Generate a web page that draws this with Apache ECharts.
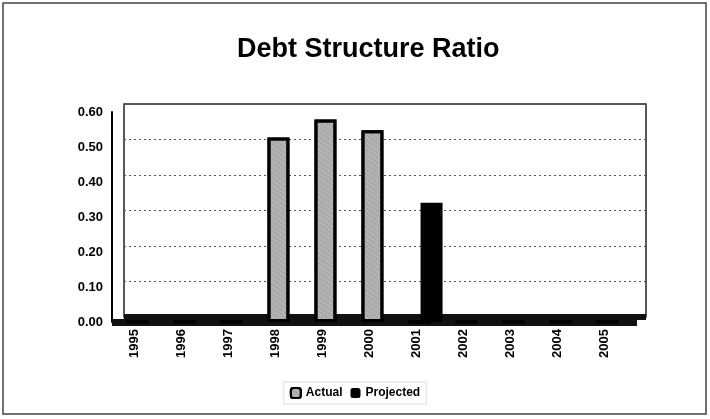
<!DOCTYPE html>
<html><head><meta charset="utf-8">
<script src="https://cdn.jsdelivr.net/npm/echarts@6/dist/echarts.min.js"></script>
<style>html,body{margin:0;padding:0;background:#fff}#c{width:710px;height:419px}</style>
</head><body><div id="c"></div>
<script>
const years = ['1995','1996','1997','1998','1999','2000','2001','2002','2003','2004','2005'];
const actual = [0, 0, 0, 0.51, 0.56, 0.53, 0, 0, 0, 0, 0];
const projected = [0, 0, 0, 0, 0, 0, 0.33, 0, 0, 0, 0];
const seriesNames = ['Actual', 'Projected'];
const titleText = 'Debt Structure Ratio';

const FONT = 'Liberation Sans, Arial, sans-serif';
const chart = echarts.init(document.getElementById('c'), null, {renderer: 'canvas'});
chart.setOption({
  animation: false,
  backgroundColor: '#fff',
  title: {
    text: titleText, left: 232, top: 31,
    textStyle: {fontFamily: FONT, fontWeight: 'bold', fontSize: 27, color: '#000'}
  },
  legend: {
    data: seriesNames, left: 'center', top: 382,
    itemWidth: 10, itemHeight: 10, itemGap: 8,
    textStyle: {fontFamily: FONT, fontWeight: 'bold', fontSize: 12, color: '#000'},
    padding: [5, 6], borderColor: '#ddd', borderWidth: 1
  },
  graphic: [{
    type: 'rect', silent: true, z: -10,
    shape: {x: 3, y: 3, width: 703, height: 411},
    style: {fill: 'none', stroke: '#444', lineWidth: 1.5}
  }],
  grid: [
    {left: 120, right: 73, top: 105, bottom: 97},
    {left: 124, right: 64, top: 104, bottom: 102, show: true, borderColor: '#222', borderWidth: 1.5, z: -1},
    {left: 112, right: 73, top: 112, bottom: 97}
  ],
  xAxis: [
    {
      type: 'category', data: years, gridIndex: 0,
      axisLine: {show: false},
      axisTick: {show: false},
      axisLabel: {
        rotate: 90, margin: 7, color: '#000',
        fontFamily: FONT, fontWeight: 'bold', fontSize: 13,
        verticalAlign: 'bottom', padding: [0, 0, 3, 0]
      }
    },
    {type: 'category', data: years, gridIndex: 1,
      axisLine: {show: true, lineStyle: {color: '#111', width: 6, cap: 'butt'}},
      axisTick: {show: false}, axisLabel: {show: false}},
    {type: 'category', data: years, gridIndex: 2,
      axisLine: {show: true, lineStyle: {color: '#111', width: 7, cap: 'butt'}},
      axisTick: {show: false}, axisLabel: {show: false}}
  ],
  yAxis: [
    {type: 'value', gridIndex: 0, min: 0, max: 0.6, interval: 0.1, show: false},
    {
      type: 'value', gridIndex: 1, min: 0, max: 0.6, interval: 0.1,
      axisLine: {show: false}, axisTick: {show: false}, axisLabel: {show: false},
      splitLine: {show: true, lineStyle: {color: '#555', type: [2, 3], width: 1}}
    },
    {
      type: 'value', gridIndex: 2, min: 0, max: 0.6, interval: 0.1,
      axisLine: {show: true, lineStyle: {color: '#000', width: 2}},
      axisTick: {show: false},
      splitLine: {show: false},
      axisLabel: {
        color: '#000', fontFamily: FONT, fontWeight: 'bold', fontSize: 13, margin: 9,
        formatter: v => v.toFixed(2)
      }
    }
  ],
  series: [
    {
      name: seriesNames[0], type: 'bar', data: actual, xAxisIndex: 0, yAxisIndex: 0,
      barWidth: 22, barGap: '-45%',
      itemStyle: {
        color: '#b4b4b4', borderColor: '#000', borderWidth: 3,
        decal: {symbol: 'rect', symbolSize: 0.6, color: 'rgba(60,60,60,0.45)', dashArrayX: [2, 1], dashArrayY: [2, 2], rotation: 0.6}
      }
    },
    {
      name: seriesNames[1], type: 'bar', data: projected, xAxisIndex: 0, yAxisIndex: 0,
      barWidth: 22,
      itemStyle: {color: '#000'}
    }
  ]
});
</script></body></html>
